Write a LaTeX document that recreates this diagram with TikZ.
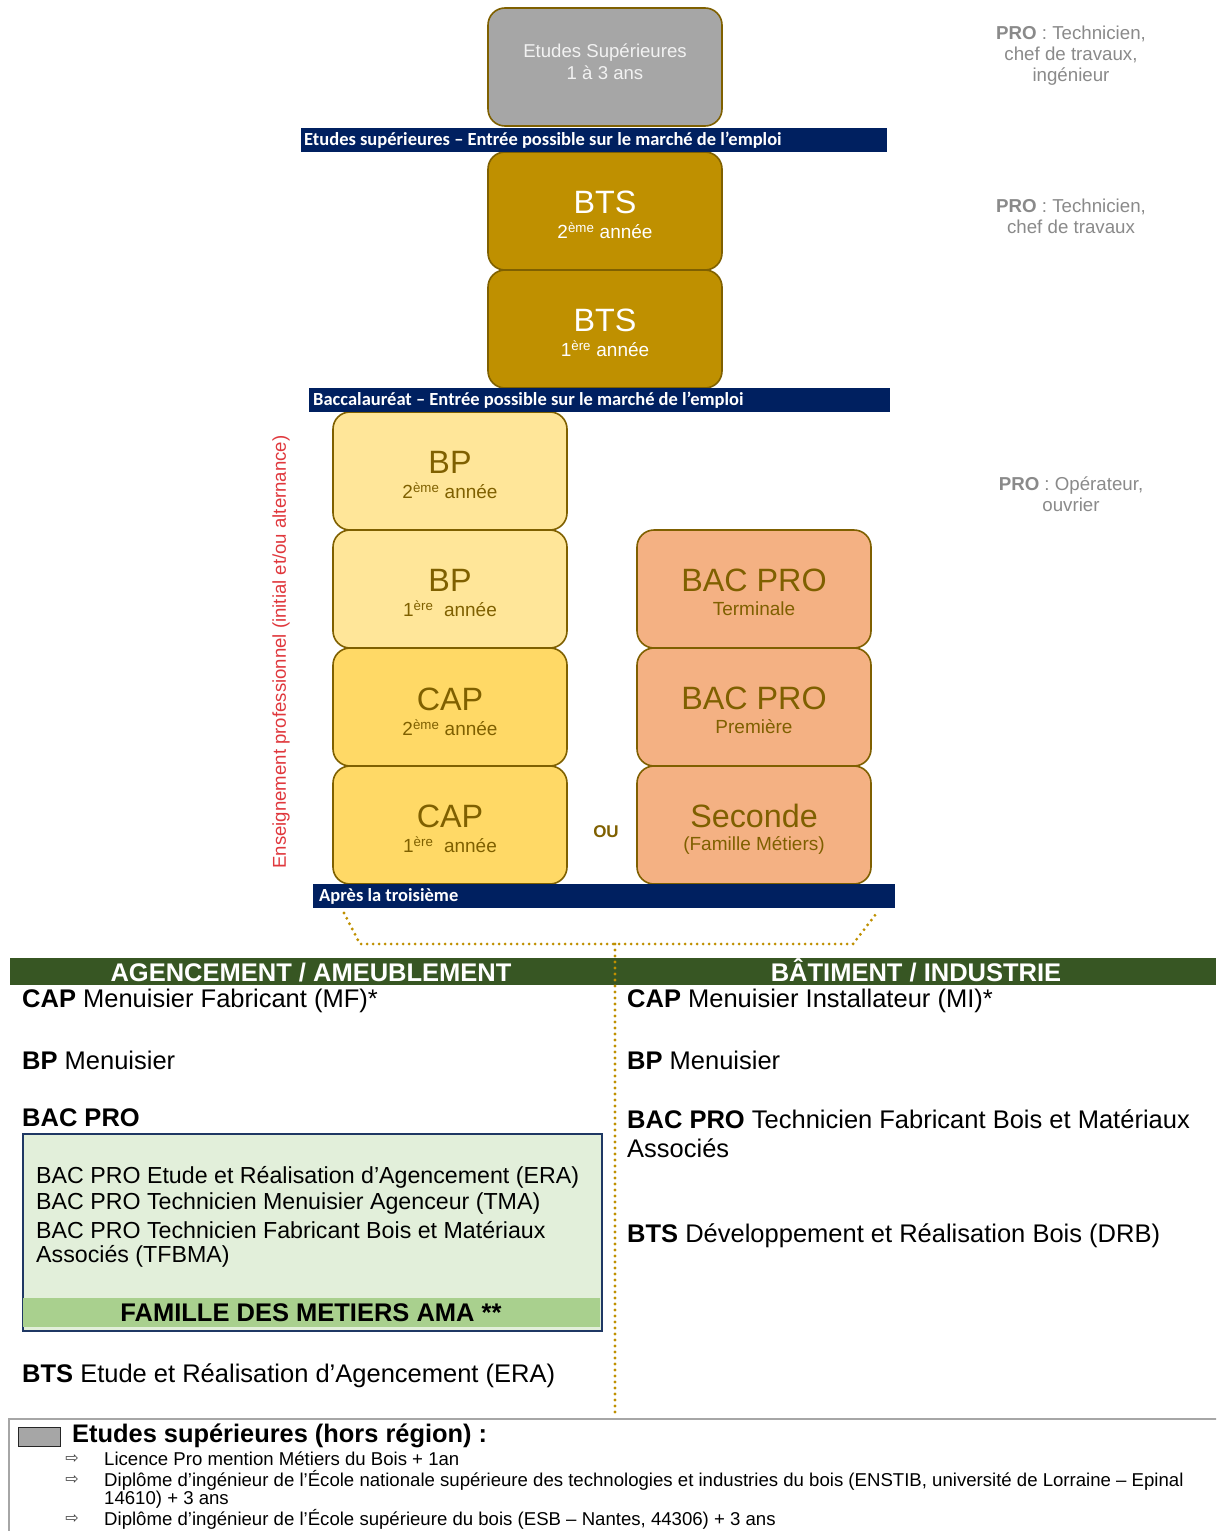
\documentclass[tikz,border=0pt]{standalone}
\usepackage{fontspec}
\setmainfont{Liberation Sans}
\newfontfamily\calibri{Carlito}
\newfontfamily\arrowfont{DejaVu Sans}
\usetikzlibrary{calc}
\definecolor{navy}{HTML}{002060}
\definecolor{olive}{HTML}{7F6000}
\definecolor{gold}{HTML}{BF9000}
\definecolor{greybox}{HTML}{A6A6A6}
\definecolor{bpyel}{HTML}{FFE699}
\definecolor{capyel}{HTML}{FFD966}
\definecolor{salmon}{HTML}{F4B183}
\definecolor{dkgreen}{HTML}{375623}
\definecolor{ltgreen}{HTML}{E2EFDA}
\definecolor{midgreen}{HTML}{A9D08E}
\definecolor{boxnavy}{HTML}{1F3864}
\definecolor{progray}{HTML}{8A8A8A}
\definecolor{redtext}{HTML}{E0383D}
\definecolor{greytxt}{HTML}{F2F2F2}
\newcommand{\fsz}[2]{\fontsize{#1}{#2}\selectfont}
\tikzset{
 ybox/.style={draw=olive, line width=1.6pt, rounded corners=17pt, minimum width=234pt, minimum height=118pt, inner sep=0pt},
 bigt/.style={font=\fsz{32.3}{37}, inner sep=0pt},
 smallt/.style={font=\fsz{19}{22}, inner sep=0pt},
 banner/.style={fill=navy, anchor=north west, minimum height=24pt, inner sep=0pt},
 bannertext/.style={text=white, font=\calibri\bfseries\fsz{18.5}{21}, anchor=west, inner sep=0pt},
 protxt/.style={text=progray, font=\fsz{18.7}{21}, align=center, inner sep=0pt},
 dotline/.style={draw=gold, line width=3.2pt, line cap=round, dash pattern=on 0pt off 6pt},
 coltxt/.style={anchor=west, inner sep=0pt, font=\fsz{25.5}{29}},
 boxt/.style={anchor=west, inner sep=0pt, font=\fsz{23.2}{26.5}},
 legt/.style={anchor=west, inner sep=0pt, font=\fsz{18.6}{21}},
 arr/.style={inner sep=0pt, font=\arrowfont\fsz{16}{18}, text=black!75},
 headt/.style={inner sep=0pt, anchor=base, text=white, font=\bfseries\fsz{25.5}{29}},
}
\begin{document}
\begin{tikzpicture}[x=1pt,y=-1pt]
\useasboundingbox (0,0) rectangle (1216,1531);
\clip (0,0) rectangle (1216,1531);
\fill[white] (0,0) rectangle (1216,1531);

% ---- boxes ----
\node[ybox, fill=greybox] (sup) at (605,67) {};
\node[inner sep=0pt, text=greytxt, font=\fsz{18.6}{22}] (supa) at ($(sup.center)+(0,-14)$) {Etudes Supérieures};
\node[inner sep=0pt, text=greytxt, font=\fsz{18.6}{22}] (supb) at ($(sup.center)+(0,6)$) {1 à 3 ans};

\node[ybox, fill=gold] (bts2) at (605,211) {};
\node[bigt, text=white] (bts2m) at ($(bts2.center)+(0,-9)$) {BTS};
\node[smallt, text=white] (bts2s) at ($(bts2.center)+(0,20)$) {2\textsuperscript{ème} année};

\node[ybox, fill=gold] (bts1) at (605,329) {};
\node[bigt, text=white] (bts1m) at ($(bts1.center)+(0,-9)$) {BTS};
\node[smallt, text=white] (bts1s) at ($(bts1.center)+(0,20)$) {1\textsuperscript{ère} année};

\node[ybox, fill=bpyel] (bp2) at (450,471) {};
\node[bigt, text=olive] (bp2m) at ($(bp2.center)+(0,-9)$) {BP};
\node[smallt, text=olive] (bp2s) at ($(bp2.center)+(0,20)$) {2\textsuperscript{ème} année};

\node[ybox, fill=bpyel] (bp1) at (450,589) {};
\node[bigt, text=olive] (bp1m) at ($(bp1.center)+(0,-9)$) {BP};
\node[smallt, text=olive] (bp1s) at ($(bp1.center)+(0,20)$) {1\textsuperscript{ère}\ \ année};

\node[ybox, fill=capyel] (cap2) at (450,707) {};
\node[bigt, text=olive] (cap2m) at ($(cap2.center)+(0,-8)$) {CAP};
\node[smallt, text=olive] (cap2s) at ($(cap2.center)+(0,21)$) {2\textsuperscript{ème} année};

\node[ybox, fill=capyel] (cap1) at (450,825) {};
\node[bigt, text=olive] (cap1m) at ($(cap1.center)+(0,-9)$) {CAP};
\node[smallt, text=olive] (cap1s) at ($(cap1.center)+(0,20)$) {1\textsuperscript{ère}\ \ année};

\node[ybox, fill=salmon] (bpt) at (754,589) {};
\node[bigt, text=olive] (bptm) at ($(bpt.center)+(0,-9)$) {BAC PRO};
\node[smallt, text=olive] (bpts) at ($(bpt.center)+(0,20)$) {Terminale};

\node[ybox, fill=salmon] (bpp) at (754,707) {};
\node[bigt, text=olive] (bppm) at ($(bpp.center)+(0,-9)$) {BAC PRO};
\node[smallt, text=olive] (bpps) at ($(bpp.center)+(0,20)$) {Première};

\node[ybox, fill=salmon] (sec) at (754,825) {};
\node[bigt, text=olive] (secm) at ($(sec.center)+(0,-9)$) {Seconde};
\node[smallt, text=olive] (secs) at ($(sec.center)+(0,20)$) {(Famille Métiers)};

\node[inner sep=0pt, font=\bfseries\fsz{17}{20}, text=olive] (ou) at (606,832) {OU};

% ---- banners ----
\node[banner, minimum width=586pt] (ban1) at (301,128) {};
\node[bannertext] (ban1t) at (304,140.5) {Etudes supérieures – Entrée possible sur le marché de l’emploi};
\node[banner, minimum width=581pt] (ban2) at (309,388) {};
\node[bannertext] (ban2t) at (313,400.5) {Baccalauréat – Entrée possible sur le marché de l’emploi};
\node[banner, minimum width=582pt] (ban3) at (313,884) {};
\node[bannertext] (ban3t) at (319,896.5) {Après la troisième};

% ---- side labels ----
\node[protxt] (pro1) at (1071,56) {\textbf{PRO} : Technicien,\\chef de travaux,\\ingénieur};
\node[protxt] (pro2) at (1071,216.5) {\textbf{PRO} : Technicien,\\chef de travaux};
\node[protxt] (pro3) at (1071,494.5) {\textbf{PRO} : Opérateur,\\ouvrier};
\node[rotate=90, inner sep=0pt, text=redtext, font=\fsz{18.6}{21}] (vlab) at (281,652) {Enseignement professionnel (initial et/ou alternance)};

% ---- section bar ----
\node[fill=dkgreen, anchor=north west, minimum width=1206pt, minimum height=27pt, inner sep=0pt] (secbar) at (10,958) {};
\node[headt] (agt) at (311,981) {AGENCEMENT / AMEUBLEMENT};
\node[headt] (bat) at (916,981) {BÂTIMENT / INDUSTRIE};

% ---- dotted connectors ----
\coordinate (d1) at (344,913);
\coordinate (d2) at (360,944);
\coordinate (d3) at (853,944);
\coordinate (d4) at (876,914);
\coordinate (d5) at (615,944);
\coordinate (d6) at (615,1412);
\draw[dotline] (d1) -- (d2) -- (d3) -- (d4);
\draw[dotline] (d5) -- (d6);

% ---- left column ----
\node[coltxt] (l1) at (22,1001) {\textbf{CAP} Menuisier Fabricant (MF)*};
\node[coltxt] (l2) at (22,1060) {\textbf{BP} Menuisier};
\node[coltxt] (l3) at (22,1118) {\textbf{BAC PRO}};
\node[draw=boxnavy, line width=2pt, fill=ltgreen, anchor=north west, minimum width=579pt, minimum height=197pt, inner sep=0pt] (amabox) at (22,1133) {};
\node[fill=midgreen, anchor=north west, minimum width=577pt, minimum height=29pt, inner sep=0pt] (amaband) at (23,1298) {};
\node[inner sep=0pt, font=\bfseries\fsz{25.5}{29}] (amat) at (311,1313) {FAMILLE DES METIERS AMA **};
\node[boxt] (b1) at (36,1177) {BAC PRO Etude et Réalisation d’Agencement (ERA)};
\node[boxt] (b2) at (36,1203) {BAC PRO Technicien Menuisier Agenceur (TMA)};
\node[boxt] (b3) at (36,1230) {BAC PRO Technicien Fabricant Bois et Matériaux};
\node[boxt] (b4) at (36,1256) {Associés (TFBMA)};
\node[coltxt] (l4) at (22,1376) {\textbf{BTS} Etude et Réalisation d’Agencement (ERA)};

% ---- right column ----
\node[coltxt] (r1) at (627,1001) {\textbf{CAP} Menuisier Installateur (MI)*};
\node[coltxt] (r2) at (627,1060) {\textbf{BP} Menuisier};
\node[coltxt] (r3) at (627,1119) {\textbf{BAC PRO} Technicien Fabricant Bois et Matériaux};
\node[coltxt] (r3b) at (627,1148) {Associés};
\node[coltxt] (r4) at (627,1236) {\textbf{BTS} Développement et Réalisation Bois (DRB)};

% ---- legend ----
\node[draw=gray!70, line width=2pt, anchor=north west, minimum width=1230pt, minimum height=150pt, inner sep=0pt] (legend) at (8,1418) {};
\node[draw=black!85, line width=1.3pt, fill=greybox, anchor=north west, minimum width=42pt, minimum height=19pt, inner sep=0pt] (swatch) at (18,1427) {};
\node[anchor=west, inner sep=0pt, font=\bfseries\fsz{25.4}{29}] (legt) at (72,1436) {Etudes supérieures (hors région) :};
\node[arr] (a1) at (72,1459) {⇨};
\node[legt] (t1) at (104,1459) {Licence Pro mention Métiers du Bois + 1an};
\node[arr] (a2) at (72,1480) {⇨};
\node[legt] (t2) at (104,1480) {Diplôme d'ingénieur de l'École nationale supérieure des technologies et industries du bois (ENSTIB, université de Lorraine – Epinal};
\node[legt] (t2b) at (104,1500) {14610) + 3 ans};
\node[arr] (a3) at (72,1519) {⇨};
\node[legt] (t3) at (104,1519) {Diplôme d'ingénieur de l'École supérieure du bois (ESB – Nantes, 44306) + 3 ans};
\end{tikzpicture}
\end{document}
